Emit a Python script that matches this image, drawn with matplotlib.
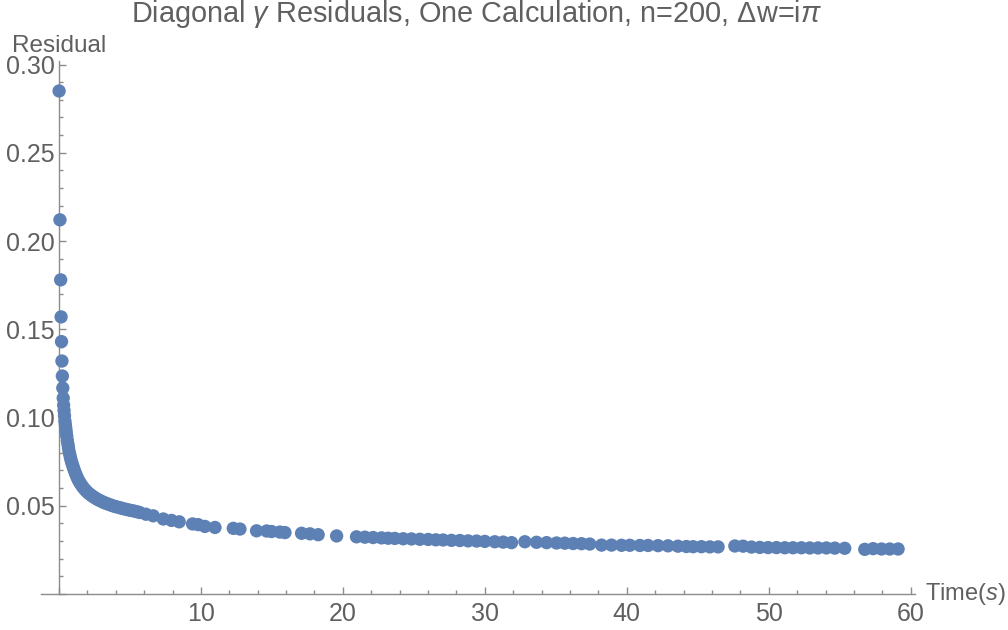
import matplotlib.pyplot as plt
from matplotlib.ticker import MultipleLocator, FuncFormatter

# time (s) and residual of the diagonal gamma
time_s = [
    0.01, 0.07, 0.12, 0.15, 0.18, 0.21, 0.24, 0.27, 0.30, 0.33,
    0.36, 0.39, 0.42, 0.45, 0.48, 0.51, 0.55, 0.59, 0.63, 0.67,
    0.71, 0.76, 0.81, 0.86, 0.92, 0.98, 1.04, 1.11, 1.18, 1.26,
    1.34, 1.43, 1.52, 1.62, 1.72, 1.83, 1.94, 2.06, 2.18, 2.31,
    2.44, 2.58, 2.72, 2.87, 3.02, 3.18, 3.34, 3.51, 3.68, 3.86,
    4.04, 4.23, 4.42, 4.62, 4.82, 5.03, 5.24, 5.46, 5.68, 6.13,
    6.64, 7.35, 7.93, 8.47, 9.41, 9.81, 10.28, 10.99, 12.28, 12.75,
    13.92, 14.63, 14.98, 15.56, 15.92, 17.09, 17.68, 18.26, 19.56, 20.96,
    21.55, 22.13, 22.72, 23.19, 23.66, 24.25, 24.83, 25.42, 26.01, 26.55,
    27.06, 27.65, 28.24, 28.82, 29.42, 30.00, 30.70, 31.29, 31.88, 32.82,
    33.64, 34.35, 35.05, 35.63, 36.22, 36.81, 37.39, 38.22, 38.92, 39.63,
    40.21, 40.92, 41.50, 42.20, 42.90, 43.60, 44.20, 44.67, 45.26, 45.85,
    46.43, 47.61, 48.19, 48.78, 49.37, 49.95, 50.54, 51.13, 51.71, 52.30,
    52.89, 53.47, 54.06, 54.65, 55.35, 56.76, 57.35, 57.94, 58.52, 59.11,
]
residual = [
    0.285, 0.212, 0.178, 0.157, 0.143, 0.132, 0.1235, 0.1167, 0.111, 0.107,
    0.104, 0.101, 0.098, 0.096, 0.094, 0.092, 0.0895, 0.087, 0.085, 0.083,
    0.081, 0.079, 0.0773, 0.0757, 0.074, 0.0725, 0.071, 0.0695, 0.068, 0.0665,
    0.065, 0.0637, 0.0625, 0.0613, 0.0602, 0.0592, 0.0582, 0.0573, 0.0565, 0.0557,
    0.055, 0.0543, 0.0536, 0.053, 0.0524, 0.0518, 0.0513, 0.0508, 0.0503, 0.0498,
    0.0494, 0.049, 0.0486, 0.0482, 0.0478, 0.0474, 0.0471, 0.0467, 0.0462, 0.0452,
    0.0443, 0.0425, 0.0417, 0.0409, 0.0397, 0.0393, 0.0383, 0.0377, 0.0372, 0.0368,
    0.0358, 0.0357, 0.0354, 0.0351, 0.0348, 0.0344, 0.0341, 0.0336, 0.0329, 0.0324,
    0.0322, 0.0320, 0.0318, 0.0316, 0.0315, 0.0313, 0.0312, 0.0310, 0.0309, 0.0307,
    0.0306, 0.0304, 0.0303, 0.0301, 0.0300, 0.0298, 0.0296, 0.0294, 0.0291, 0.0296,
    0.0293, 0.0291, 0.0289, 0.0288, 0.0286, 0.0285, 0.0283, 0.0277, 0.0277, 0.0276,
    0.0276, 0.0275, 0.0275, 0.0274, 0.0273, 0.0271, 0.0269, 0.0268, 0.0268, 0.0267,
    0.0267, 0.0272, 0.0271, 0.0266, 0.0264, 0.0263, 0.0263, 0.0262, 0.0262, 0.0262,
    0.0261, 0.0261, 0.0261, 0.0260, 0.0259, 0.0253, 0.0257, 0.0255, 0.0255, 0.0255,
]

plt.rcParams['font.family'] = ['Liberation Sans', 'DejaVu Sans']
plt.rcParams['mathtext.fontset'] = 'custom'
plt.rcParams['mathtext.rm'] = 'Liberation Sans'
plt.rcParams['mathtext.it'] = 'Liberation Sans:italic'

axis_grey = '#8c8c8c'
text_grey = '#606060'
point_blue = '#5e81b5'

fig = plt.figure(figsize=(10.08, 6.3), dpi=100)
ax = fig.add_axes([40.5 / 1008, 36 / 630, 874.5 / 1008, 533 / 630])

ax.scatter(time_s, residual, s=92, color=point_blue, edgecolors='none',
           zorder=3, clip_on=False)

ax.set_xlim(-1.3, 60.3)
ax.set_ylim(0, 0.302)

for side in ['top', 'right']:
    ax.spines[side].set_visible(False)
ax.spines['left'].set_position(('data', 0))
ax.spines['bottom'].set_position(('data', 0))
for side in ['left', 'bottom']:
    ax.spines[side].set_color(axis_grey)
    ax.spines[side].set_linewidth(1.0)

ax.xaxis.set_major_locator(MultipleLocator(10))
ax.xaxis.set_minor_locator(MultipleLocator(2))
ax.yaxis.set_major_locator(MultipleLocator(0.05))
ax.yaxis.set_minor_locator(MultipleLocator(0.01))
ax.xaxis.set_major_formatter(FuncFormatter(lambda v, p: '' if abs(v) < 1e-9 else f'{v:.0f}'))
ax.yaxis.set_major_formatter(FuncFormatter(lambda v, p: '' if abs(v) < 1e-9 else f'{v:.2f}'))

ax.tick_params(which='both', direction='in', color=axis_grey, width=1.0,
               labelcolor=text_grey, labelsize=18)
ax.tick_params(which='major', length=5, pad=3)
ax.tick_params(axis='x', which='major', pad=6)
ax.tick_params(which='minor', length=3)

fig.text(477 / 1008, 1 - 22 / 630,
         r'Diagonal $\gamma$ Residuals, One Calculation, n=200, $\Delta$w=i$\pi$',
         ha='center', va='baseline', fontsize=20.8, color=text_grey)
fig.text(59.5 / 1008, 1 - 52 / 630, 'Residual', ha='center', va='baseline',
         fontsize=17.5, color=text_grey)
fig.text(925 / 1008, 1 - 594 / 630, r'Time($s$)', ha='left', va='center',
         fontsize=17, color=text_grey)

fig.savefig('out.png', dpi=100)
